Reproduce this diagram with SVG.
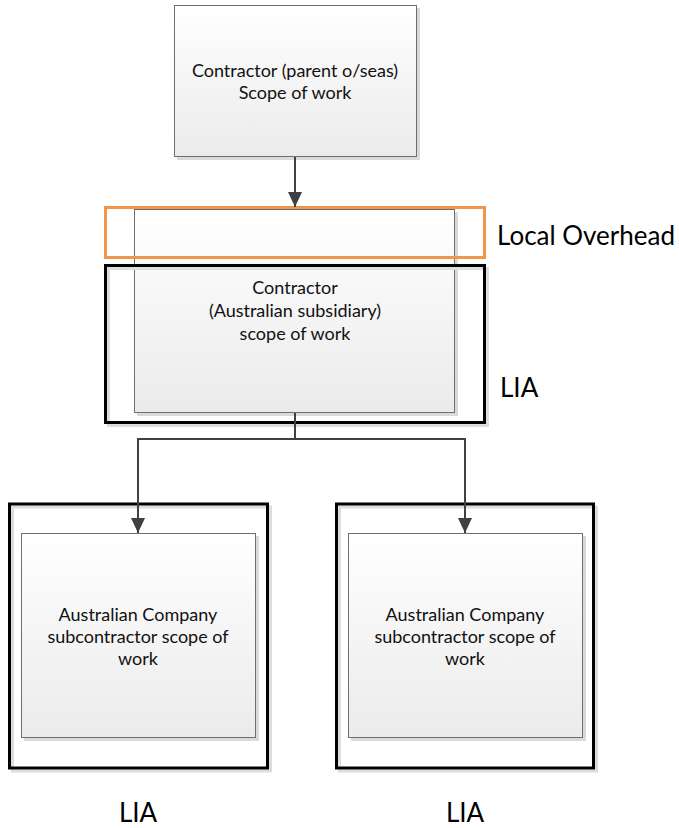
<svg xmlns="http://www.w3.org/2000/svg" width="679" height="828" viewBox="0 0 679 828">
  <defs>
    <linearGradient id="boxFill" x1="0" y1="0" x2="0" y2="1">
      <stop offset="0" stop-color="#FFFFFF"/>
      <stop offset="1" stop-color="#EBEBEB"/>
    </linearGradient>
    <marker id="arrow" viewBox="0 0 10 10" refX="10" refY="5" markerWidth="15" markerHeight="14" markerUnits="userSpaceOnUse" orient="auto" preserveAspectRatio="none">
      <path d="M0,0 L10,5 L0,10 Z" fill="#404040"/>
    </marker>
    <style>
      .shadow { fill: #DADADA; }
      .box { fill: url(#boxFill); stroke: #6E6E6E; stroke-width: 1; }
      .frame { fill: none; stroke: #000000; stroke-width: 3; }
      .frameShadow { fill: none; stroke: #DDDDDD; stroke-width: 3; }
      .overhead { fill: none; stroke: #F0954C; stroke-width: 3; }
      .label { font-family: Lato, "Liberation Sans", sans-serif; font-size: 18px; fill: #111111; text-anchor: middle; }
      .note { font-family: Lato, "Liberation Sans", sans-serif; font-size: 26px; fill: #000000; }
      .conn { fill: none; stroke: #404040; stroke-width: 2; }
    </style>
  </defs>

  <!-- Parent contractor -->
  <g id="parent">
    <rect class="shadow" x="177" y="8" width="243" height="152"/>
    <rect class="box" x="174.5" y="5.5" width="242" height="151"/>
    <text class="label" x="295" y="77">Contractor (parent o/seas)</text>
    <text class="label" x="295" y="99">Scope of work</text>
  </g>

  <!-- Australian subsidiary -->
  <g id="subsidiary">
    <rect class="shadow" x="137" y="212" width="321" height="204"/>
    <rect class="box" x="134.5" y="209.5" width="320" height="203"/>
    <text class="label" x="295" y="294">Contractor</text>
    <text class="label" x="295" y="317">(Australian subsidiary)</text>
    <text class="label" x="295" y="340">scope of work</text>
  </g>

  <!-- Local overhead band -->
  <g id="local-overhead">
    <rect class="overhead" x="105.5" y="207.5" width="379" height="50"/>
    <text class="note" x="497" y="245">Local Overhead</text>
  </g>

  <!-- LIA around subsidiary -->
  <g id="lia-subsidiary">
    <rect class="frameShadow" x="108.5" y="268.5" width="379" height="157"/>
    <rect class="frame" x="105.5" y="265.5" width="379" height="157"/>
    <text class="note" x="500" y="397">LIA</text>
  </g>

  <!-- Left subcontractor -->
  <g id="subcontractor-left">
    <rect class="frameShadow" x="12.5" y="507" width="258" height="264"/>
    <rect class="frame" x="9.5" y="504" width="258" height="264"/>
    <rect class="shadow" x="24" y="536" width="235" height="205"/>
    <rect class="box" x="21.5" y="533.5" width="234" height="204"/>
    <text class="label" x="138" y="621">Australian Company</text>
    <text class="label" x="138" y="643">subcontractor scope of</text>
    <text class="label" x="138" y="665">work</text>
    <text class="note" x="138" y="822" text-anchor="middle">LIA</text>
  </g>

  <!-- Right subcontractor -->
  <g id="subcontractor-right">
    <rect class="frameShadow" x="339.5" y="507" width="257" height="264"/>
    <rect class="frame" x="336.5" y="504" width="257" height="264"/>
    <rect class="shadow" x="351" y="536" width="235" height="205"/>
    <rect class="box" x="348.5" y="533.5" width="234" height="204"/>
    <text class="label" x="465" y="621">Australian Company</text>
    <text class="label" x="465" y="643">subcontractor scope of</text>
    <text class="label" x="465" y="665">work</text>
    <text class="note" x="465" y="822" text-anchor="middle">LIA</text>
  </g>

  <!-- Connectors -->
  <g id="connectors">
    <path class="conn" d="M295,157 V207" marker-end="url(#arrow)"/>
    <path class="conn" d="M295,413 V439 H138 V533" marker-end="url(#arrow)"/>
    <path class="conn" d="M295,439 H465 V533" marker-end="url(#arrow)"/>
  </g>
</svg>
